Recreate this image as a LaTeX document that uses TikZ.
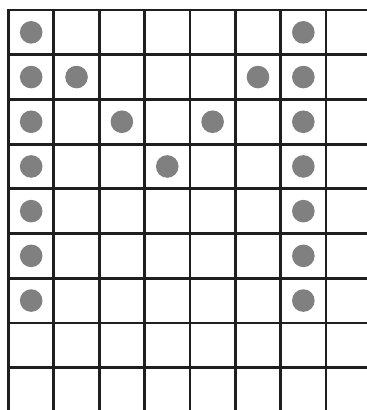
\documentclass[tikz,border=0pt]{standalone}
\begin{document}
\begin{tikzpicture}[x=1pt,y=-1pt,
  gridline/.style={draw=black!88, line width=2.8pt, line cap=rect},
  dot/.style={fill=black!50, draw=none}]
\fill[white] (0,0) rectangle (367,410);
\useasboundingbox (0,0) rectangle (367,410);
\pgfmathsetmacro{\dx}{45.36}
\pgfmathsetmacro{\dy}{44.7}
\foreach \i in {0,...,7} {
  \draw[gridline] ({8.5+\dx*\i},10) -- ({8.5+\dx*\i},412);
}
\foreach \j in {0,...,8} {
  \draw[gridline] (8.5,{10+\dy*\j}) -- (369,{10+\dy*\j});
}
\foreach \c/\r in {0/0,0/1,0/2,0/3,0/4,0/5,0/6,6/0,6/1,6/2,6/3,6/4,6/5,6/6,1/1,5/1,2/2,4/2,3/3} {
  \fill[dot] ({8.5+\dx*(\c+0.5)},{10+\dy*(\r+0.5)}) circle (11.3);
}
\end{tikzpicture}
\end{document}
